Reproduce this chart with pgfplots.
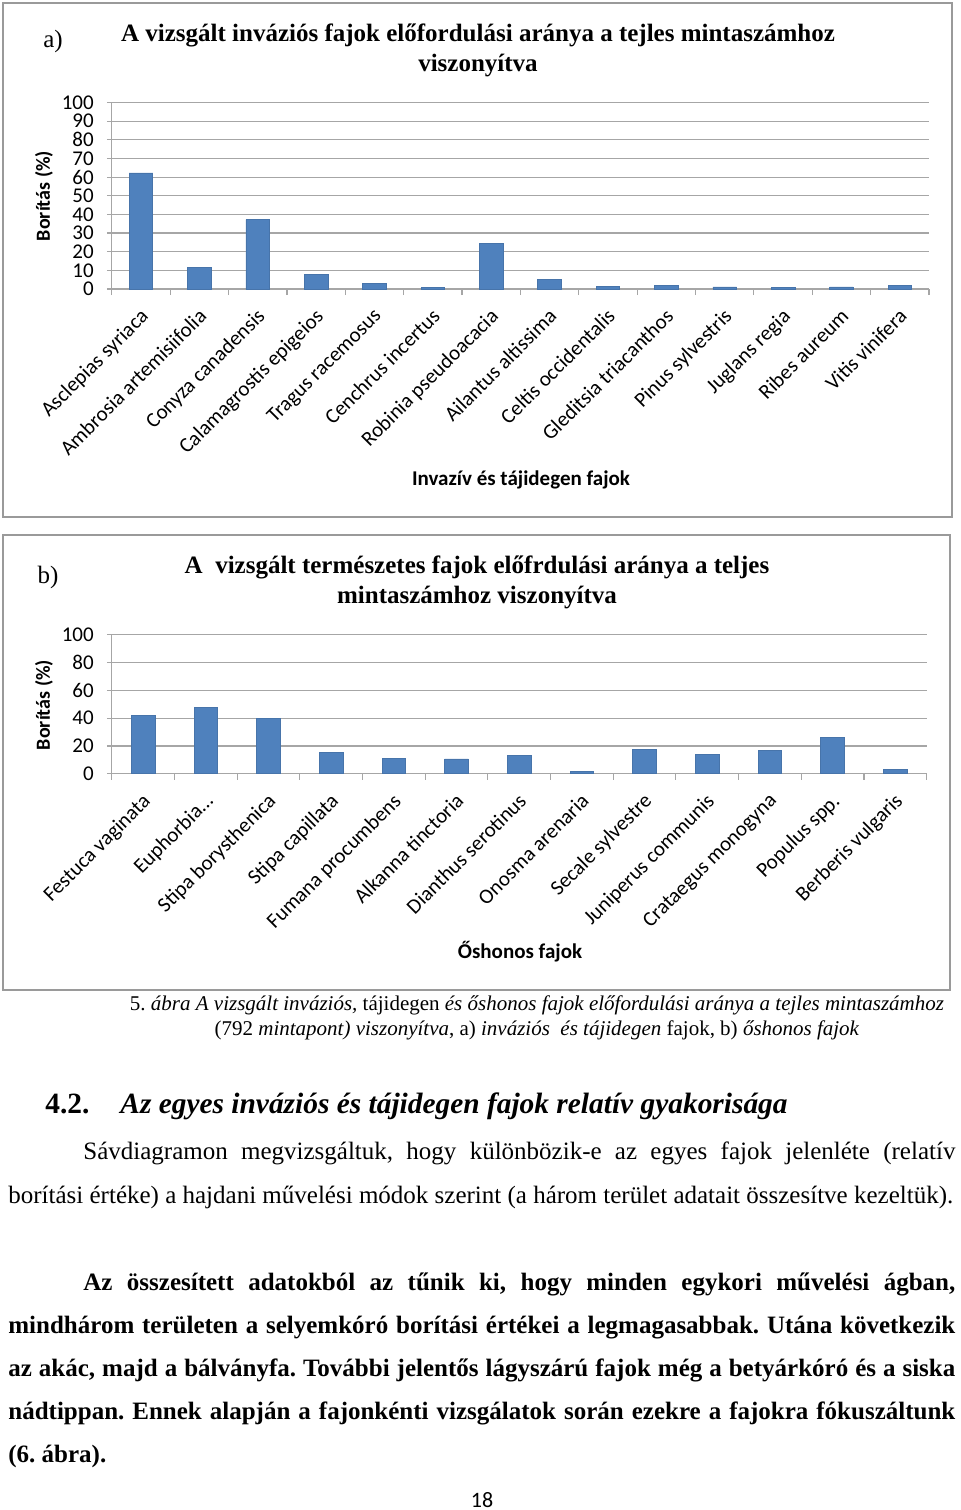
\documentclass[border=0pt]{standalone}
\usepackage{pgfplots}
\pgfplotsset{compat=1.18}
\usepackage{fontspec}
\setmainfont{Liberation Serif}
\newfontfamily\calibri{Carlito}
\definecolor{barblue}{HTML}{4F81BD}
\definecolor{gridgray}{HTML}{A6A6A6}
\definecolor{boxgray}{HTML}{9A9A9A}
\frenchspacing

\pgfplotsset{
  excelbar/.style={
    scale only axis,
    axis x line*=bottom, axis y line*=left,
    axis line style={gridgray, line width=0.6pt},
    ymin=0, ymax=100,
    ymajorgrids, grid style={gridgray, line width=0.6pt},
    tick align=outside,
    major x tick style={draw=none},
    minor x tick style={gridgray, line width=0.6pt},
    ytick style={gridgray, line width=0.6pt},
    minor tick length=3pt,
    major tick length=2.5pt,
    /pgf/number format/assume math mode=true,
    ticklabel style={font=\calibri\fontsize{10.5}{12}\selectfont},
    yticklabel style={xshift=-3pt},
    xticklabel style={yshift=-5pt, xshift=-1pt, rotate=45, anchor=north east, inner sep=1pt},
    ybar, bar width=11.8pt,
    xtick=data,
  }
}

\pgfplotstableread{
x val
0 62.3
1 11.6
2 37.2
3 8.0
4 2.9
5 0.7
6 24.5
7 5.0
8 1.3
9 2.0
10 1.1
11 0.7
12 1.1
13 2.0
}\invasive

\pgfplotstableread{
x val
0 42.2
1 47.7
2 40.0
3 15.1
4 11.3
5 10.6
6 13.2
7 1.9
8 17.5
9 13.9
10 16.5
11 26.1
12 3.1
}\native

\begin{document}
\begin{tikzpicture}
\useasboundingbox (0,0) rectangle (480pt,-755pt);

% ---- chart a ----
\draw[boxgray, line width=0.8pt] (1.5pt,-1.5pt) rectangle (476pt,-258.5pt);
\node at (26.5pt,-20.5pt) {\fontsize{12.5}{14}\selectfont a)};
\node[align=center, font=\bfseries\fontsize{12.5}{15}\selectfont] at (239pt,-25.25pt)
  {A vizsgált inváziós fajok előfordulási aránya a tejles mintaszámhoz\\viszonyítva};
\begin{axis}[excelbar,
  at={(55.9pt,-144.5pt)}, anchor=south west,
  width=408.6pt, height=93.2pt,
  xmin=-0.5, xmax=13.5,
  ytick={0,10,...,100},
  minor xtick={-0.5,0.5,...,13.5},
  xticklabels={Asclepias syriaca, Ambrosia artemisiifolia, Conyza canadensis,
    Calamagrostis epigeios, Tragus racemosus, Cenchrus incertus,
    Robinia pseudoacacia, Ailantus altissima, Celtis occidentalis,
    Gleditsia triacanthos, Pinus sylvestris, Juglans regia, Ribes aureum,
    Vitis vinifera},
  ]
  \addplot[fill=barblue, draw=barblue!90!black, line width=0.3pt] table[x=x, y=val] {\invasive};
\end{axis}
\node[rotate=90, font=\calibri\bfseries\fontsize{10}{12}\selectfont] at (22pt,-98pt) {Borítás (\%)};
\node[font=\calibri\bfseries\fontsize{10.5}{12}\selectfont] at (260.5pt,-240pt) {Invazív és tájidegen fajok};

% ---- chart b ----
\draw[boxgray, line width=0.8pt] (1.5pt,-267.5pt) rectangle (475pt,-495pt);
\node at (24pt,-288.5pt) {\fontsize{12.5}{14}\selectfont b)};
\node[align=center, font=\bfseries\fontsize{12.5}{15}\selectfont] at (238.5pt,-291pt)
  {A\ \ vizsgált természetes fajok előfrdulási aránya a teljes\\mintaszámhoz viszonyítva};
\begin{axis}[excelbar,
  at={(55.9pt,-386.85pt)}, anchor=south west,
  width=407.4pt, height=69.5pt,
  xmin=-0.5, xmax=12.5,
  ytick={0,20,...,100},
  minor xtick={-0.5,0.5,...,12.5},
  xticklabels={Festuca vaginata, Euphorbia…, Stipa borysthenica,
    Stipa capillata, Fumana procumbens, Alkanna tinctoria,
    Dianthus serotinus, Onosma arenaria, Secale sylvestre,
    Juniperus communis, Crataegus monogyna, Populus spp.,
    Berberis vulgaris},
  ]
  \addplot[fill=barblue, draw=barblue!90!black, line width=0.3pt] table[x=x, y=val] {\native};
\end{axis}
\node[rotate=90, font=\calibri\bfseries\fontsize{10}{12}\selectfont] at (22pt,-352.5pt) {Borítás (\%)};
\node[font=\calibri\bfseries\fontsize{10.5}{12}\selectfont] at (260pt,-476pt) {Őshonos fajok};

% ---- caption ----
\node[font=\fontsize{10.5}{12}\selectfont] at (268.5pt,-502.5pt)
  {5. \textit{ábra A vizsgált inváziós,} tájidegen \textit{és őshonos fajok előfordulási aránya a tejles mintaszámhoz}};
\node[font=\fontsize{10.5}{12}\selectfont] at (268.5pt,-515pt)
  {(792 \textit{mintapont) viszonyítva}, a) \textit{inváziós\ \ és tájidegen} fajok, b) \textit{őshonos fajok}};

% ---- heading ----
\node[anchor=base west, inner sep=0pt, font=\bfseries\fontsize{14.7}{17}\selectfont] at (22.5pt,-556.5pt) {4.2.};
\node[anchor=base west, inner sep=0pt, font=\bfseries\itshape\fontsize{14.7}{17}\selectfont] at (60pt,-556.5pt)
  {Az egyes inváziós és tájidegen fajok relatív gyakorisága};

% ---- body text ----
\begin{scope}[every node/.style={anchor=base west, inner sep=0pt, font=\fontsize{12.5}{14}\selectfont}]
\node at (41.5pt,-579.5pt) {\makebox[436pt][s]{Sávdiagramon megvizsgáltuk, hogy különbözik-e az egyes fajok jelenléte (relatív}};
\node at (4pt,-601.5pt) {borítási értéke) a hajdani művelési módok szerint (a három terület adatait összesítve kezeltük).};
\node[font=\bfseries\fontsize{12.5}{14}\selectfont] at (41.5pt,-645pt) {\makebox[436pt][s]{Az összesített adatokból az tűnik ki, hogy minden egykori művelési ágban,}};
\node[font=\bfseries\fontsize{12.5}{14}\selectfont] at (4pt,-666.5pt) {\makebox[473.5pt][s]{mindhárom területen a selyemkóró borítási értékei a legmagasabbak. Utána következik}};
\node[font=\bfseries\fontsize{12.5}{14}\selectfont] at (4pt,-688pt) {\makebox[473.5pt][s]{az akác, majd a bálványfa. További jelentős lágyszárú fajok még a betyárkóró és a siska}};
\node[font=\bfseries\fontsize{12.5}{14}\selectfont] at (4pt,-709.5pt) {\makebox[473.5pt][s]{nádtippan. Ennek alapján a fajonkénti vizsgálatok során ezekre a fajokra fókuszáltunk}};
\node[font=\bfseries\fontsize{12.5}{14}\selectfont] at (4pt,-731pt) {(6. ábra).};
\end{scope}
\node[anchor=base, inner sep=0pt, font=\calibri\fontsize{11}{13}\selectfont] at (241pt,-753.5pt) {18};
\end{tikzpicture}
\end{document}
